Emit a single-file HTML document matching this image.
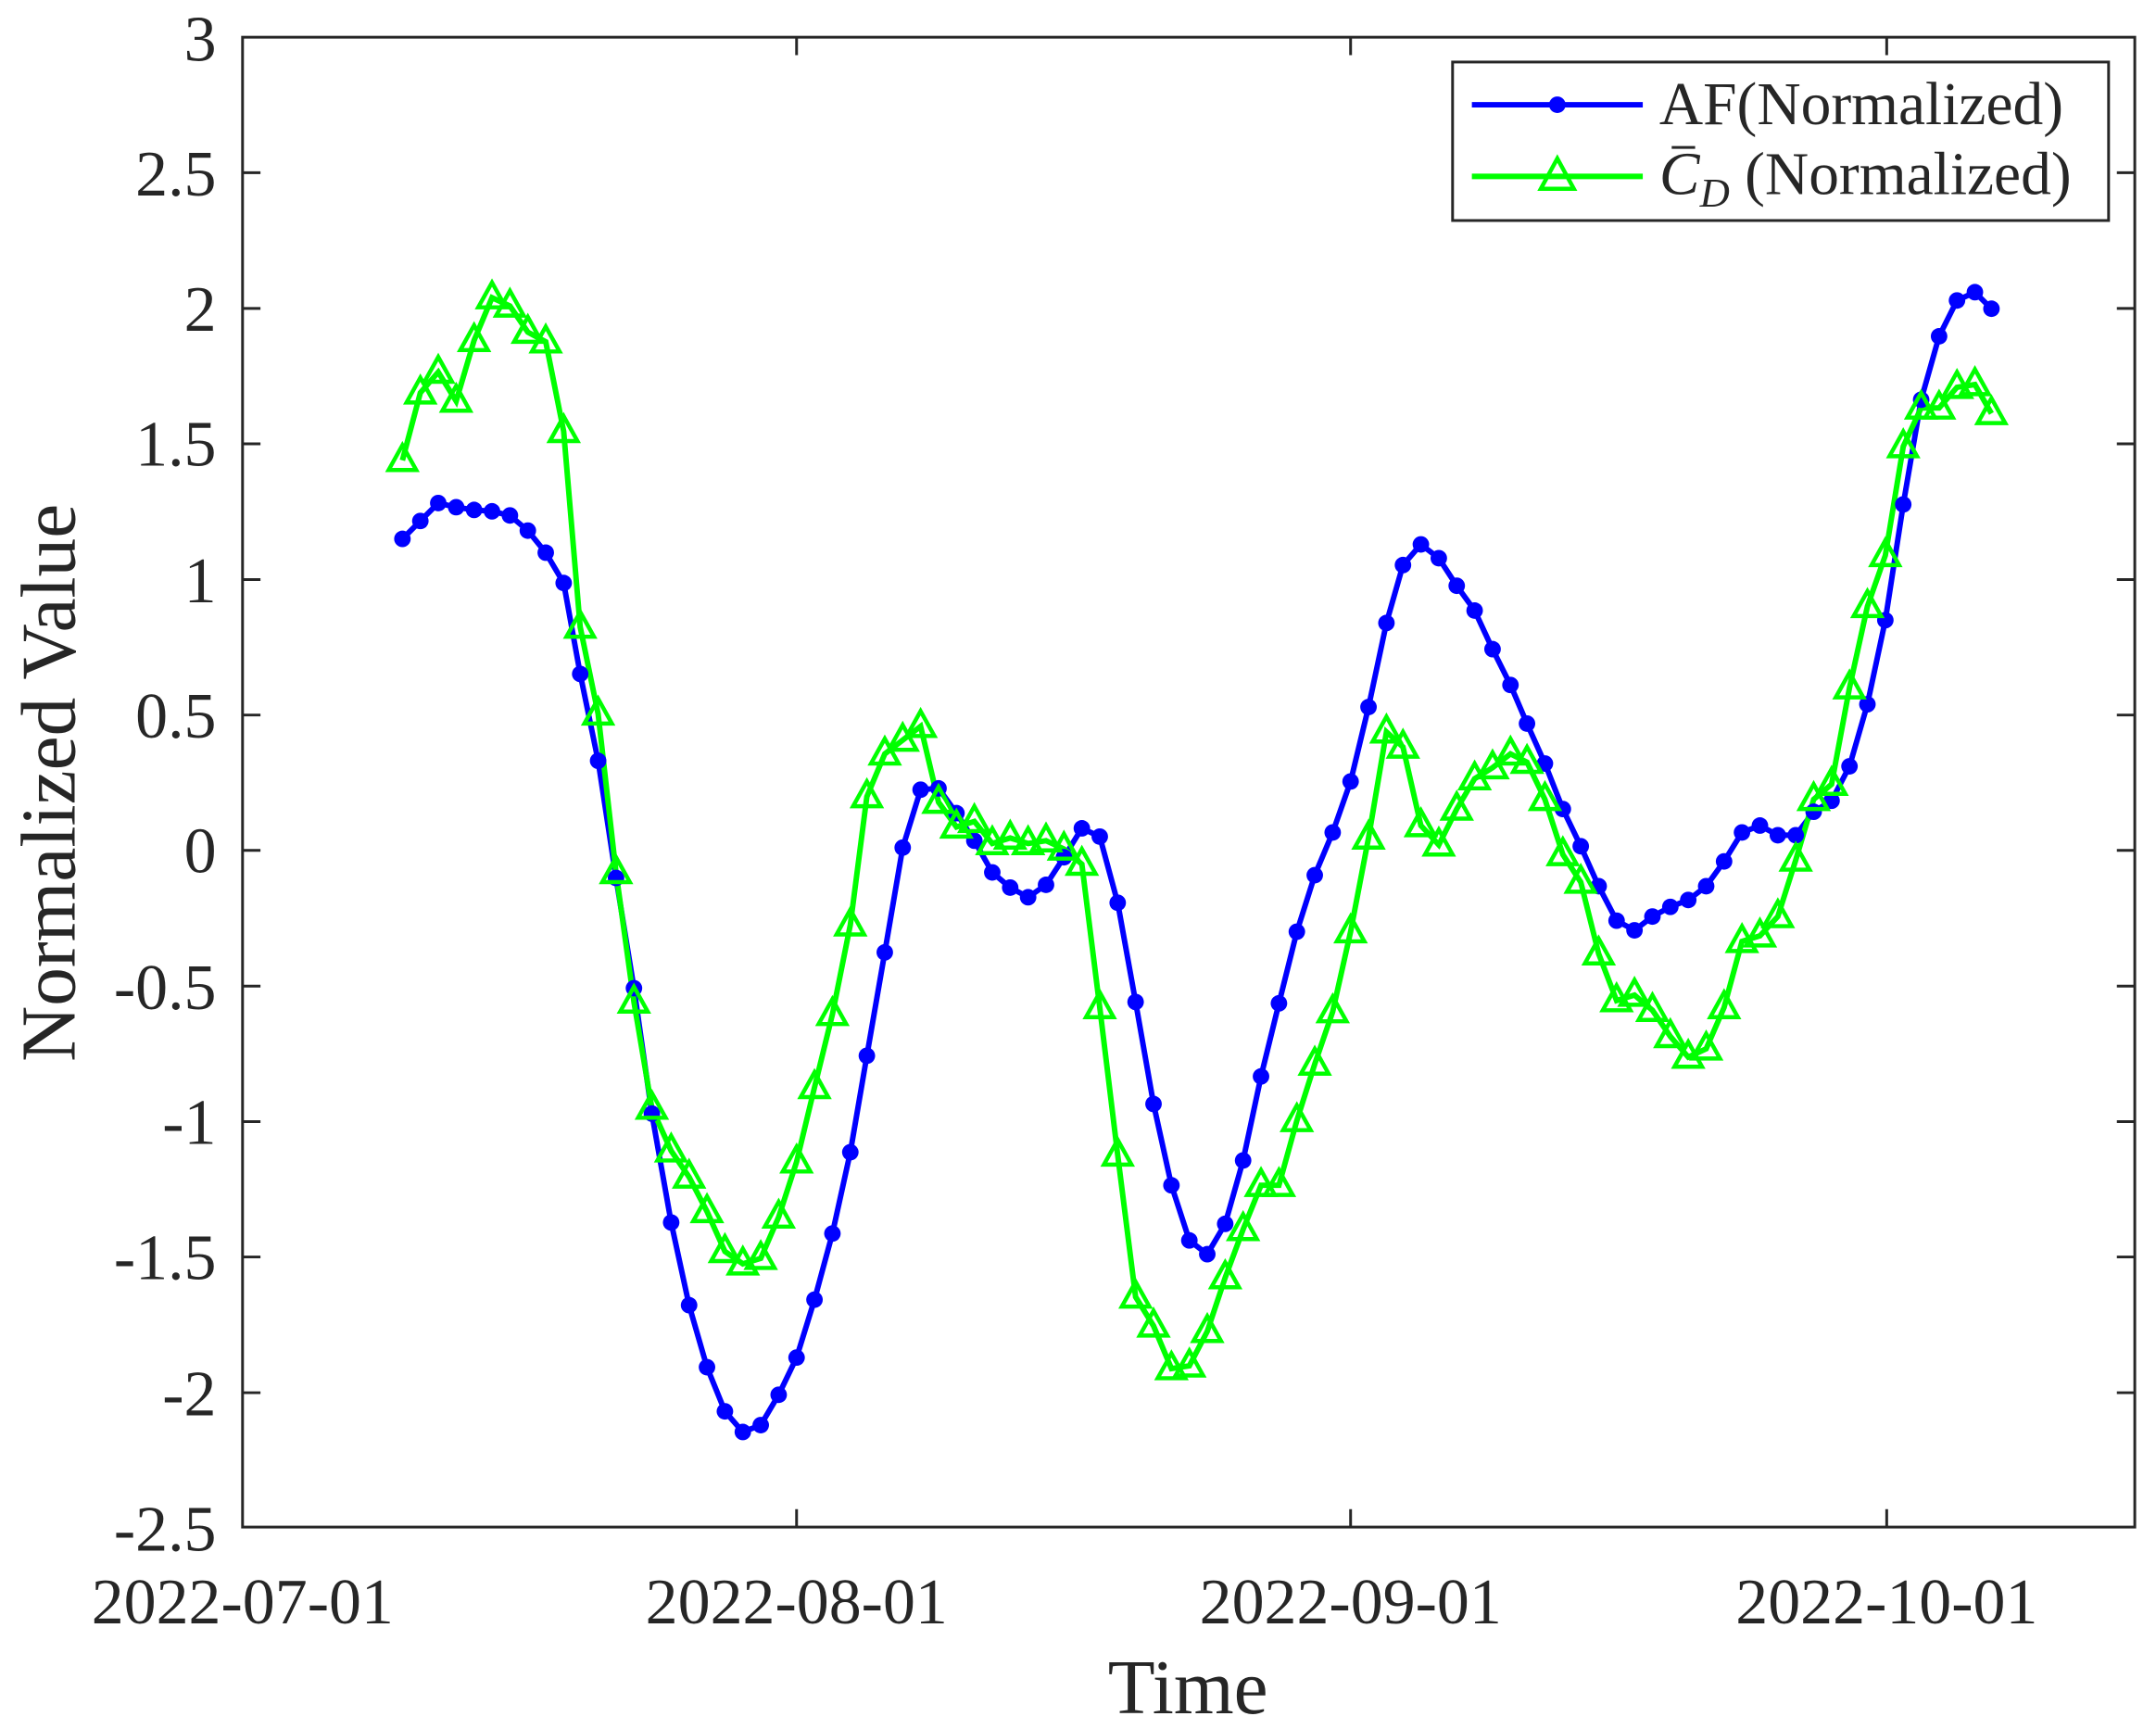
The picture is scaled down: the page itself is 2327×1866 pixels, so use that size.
<!DOCTYPE html>
<html><head><meta charset="utf-8"><style>html,body{margin:0;padding:0;background:#fff}svg{display:block}</style></head>
<body>
<svg width="2327" height="1866" viewBox="0 0 1564.4 1254.5" preserveAspectRatio="none" xmlns="http://www.w3.org/2000/svg" font-family="Liberation Serif, serif" fill="#262626">
<rect x="0" y="0" width="1564.4" height="1254.5" fill="#fff"/>
<g stroke="#262626" stroke-width="2" fill="none">
<rect x="176" y="27" width="1373" height="1081"/>
<path d="M176,125.3h13M176,223.8h13M176,322h13M176,420.5h13M176,518.8h13M176,617h13M176,715.5h13M176,813.8h13M176,912h13M176,1010.5h13
M1549,125.3h-13M1549,223.8h-13M1549,322h-13M1549,420.5h-13M1549,518.8h-13M1549,617h-13M1549,715.5h-13M1549,813.8h-13M1549,912h-13M1549,1010.5h-13
M578,1108v-13M980,1108v-13M1369,1108v-13M578,27v13M980,27v13M1369,27v13"/>
</g>
<g font-size="47" text-anchor="end">
<text x="157" y="44">3</text><text x="157" y="142">2.5</text><text x="157" y="240">2</text><text x="157" y="338">1.5</text><text x="157" y="437">1</text><text x="157" y="535">0.5</text><text x="157" y="633">0</text><text x="157" y="732">-0.5</text><text x="157" y="830">-1</text><text x="157" y="928">-1.5</text><text x="157" y="1027">-2</text><text x="157" y="1125">-2.5</text>
</g>
<g font-size="47" text-anchor="middle">
<text x="176" y="1178">2022-07-01</text><text x="578" y="1178">2022-08-01</text><text x="980" y="1178">2022-09-01</text><text x="1369" y="1178">2022-10-01</text>
<text x="862" y="1243" font-size="56">Time</text>
<text transform="translate(54,568) rotate(-90)" font-size="56">Normalized Value</text>
</g>
<polyline fill="none" stroke="#0000ff" stroke-width="4" points="292,391 305,378 318,365 331,368 344,370 357,371 370,374 383,385 396,401 409,423 421,489 434,552 447,637 460,717 473,808 487,887 500,947 513,992 526,1024 539,1039 552,1034 565,1012 578,985 591,943 604,895 617,836 629,766 642,691 655,615 668,573 681,572 694,590 707,610 720,633 733,644 746,651 759,642 772,622 785,601 798,607 811,655 824,727 837,801 850,860 863,900 876,910 889,888 902,842 915,781 928,728 941,676 954,635 967,604 980,567 993,513 1006,452 1018,410 1031,395 1044,405 1057,425 1070,443 1083,471 1096,497 1108,525 1121,554 1134,587 1147,614 1160,643 1173,668 1186,675 1199,665 1212,658 1225,653 1238,643 1251,625 1264,604 1277,599 1290,606 1303,606 1316,589 1329,581 1342,556 1355,511 1368,450 1381,366 1394,290 1407,244 1420,218 1433,212 1445,224"/>
<polyline fill="none" stroke="#00ff00" stroke-width="4" points="292,334 305,285 318,270 331,291 344,247 357,216 370,222 383,241 396,248 409,313 421,455 434,518 447,633 460,727 473,804 487,835 500,854 513,879 526,908 539,917 552,913 565,883 578,843 591,789 604,736 617,671 629,578 642,547 655,537 668,527 681,582 694,600 707,596 720,612 733,608 746,612 759,610 772,616 785,627 798,731 811,838 824,941 837,962 850,993 863,991 876,966 889,927 902,892 915,860 928,860 941,813 954,772 967,734 980,676 993,608 1006,531 1018,542 1031,599 1044,613 1057,587 1070,565 1083,557 1096,547 1108,553 1121,580 1134,620 1147,640 1160,692 1173,726 1186,722 1199,733 1212,752 1225,767 1238,761 1251,731 1264,683 1277,679 1290,665 1303,624 1316,580 1329,569 1342,499 1355,440 1368,403 1381,324 1394,296 1407,296 1420,281 1433,279 1445,300"/>
<g id="marks"></g>
<rect x="1054" y="45" width="476" height="115" fill="#fff" stroke="#262626" stroke-width="2"/>
<line x1="1068" y1="76" x2="1192" y2="76" stroke="#0000ff" stroke-width="4"/>
<circle cx="1130" cy="76" r="6" fill="#0000ff"/>
<line x1="1068" y1="128" x2="1192" y2="128" stroke="#00ff00" stroke-width="4"/>
<path d="M1130,115 L1142,137 L1118,137 Z" fill="none" stroke="#00ff00" stroke-width="3"/>
<text x="1204" y="90" font-size="44">AF(Normalized)</text>
<text x="1204" y="141" font-size="44"><tspan font-style="italic">C</tspan><tspan font-style="italic" font-size="30" dy="9">D</tspan><tspan dy="-9"> (Normalized)</tspan></text>
<line x1="1213" y1="107" x2="1230" y2="107" stroke="#262626" stroke-width="2"/>
<script>
(function(){
var ns="http://www.w3.org/2000/svg",g=document.getElementById("marks");
var ps=document.querySelectorAll("polyline");
ps[0].getAttribute("points").trim().split(/\s+/).forEach(function(p){var a=p.split(",");var c=document.createElementNS(ns,"circle");c.setAttribute("cx",a[0]);c.setAttribute("cy",a[1]);c.setAttribute("r","6");c.setAttribute("fill","#0000ff");g.appendChild(c);});
ps[1].getAttribute("points").trim().split(/\s+/).forEach(function(p){var a=p.split(",").map(Number);var t=document.createElementNS(ns,"path");t.setAttribute("d","M"+a[0]+","+(a[1]-11)+" L"+(a[0]+10)+","+(a[1]+7)+" L"+(a[0]-10)+","+(a[1]+7)+" Z");t.setAttribute("fill","none");t.setAttribute("stroke","#00ff00");t.setAttribute("stroke-width","3");g.appendChild(t);});
})();
</script>
</svg>
</body></html>
